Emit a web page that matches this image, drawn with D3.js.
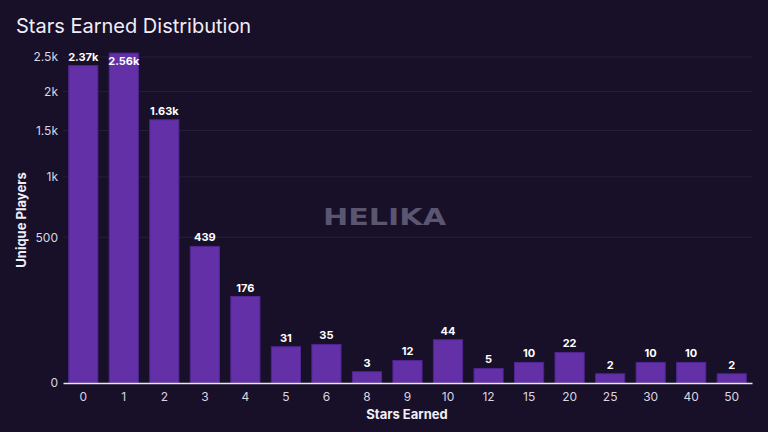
<!DOCTYPE html>
<html><head><meta charset="utf-8">
<script src="https://cdn.jsdelivr.net/npm/d3@7"></script>
<style>
html,body{margin:0;padding:0;background:#180f29;}
svg{display:block;font-family:Inter,"DejaVu Sans",sans-serif;}
</style></head>
<body><svg id="c" width="768" height="432"></svg>
<script>
const categories = ["0","1","2","3","4","5","6","8","9","10","12","15","20","25","30","40","50"];
const values = [2370,2560,1630,439,176,31,35,3,12,44,5,10,22,2,10,10,2];
const labels = ["2.37k","2.56k","1.63k","439","176","31","35","3","12","44","5","10","22","2","10","10","2"];
const yTicks = [0,500,1000,1500,2000,2500];
const yTickLabels = ["0","500","1k","1.5k","2k","2.5k"];

const svg = d3.select("#c");
svg.append("rect").attr("width",768).attr("height",432).attr("fill","#180f29");

const x = d3.scaleBand().domain(categories).range([63,752]).paddingInner(0.28).paddingOuter(0.14);
const y = d3.scaleSqrt().domain([0,2500]).range([383,57]);

// grid
svg.append("g").selectAll("line").data(yTicks.slice(1)).join("line")
  .attr("x1",63).attr("x2",752).attr("y1",d=>y(d)).attr("y2",d=>y(d))
  .attr("stroke","#271e3c").attr("stroke-width",1);

// watermark
svg.append("text").attr("x",323).attr("y",225)
  .attr("font-family","'DejaVu Sans',sans-serif").attr("font-weight",700).attr("font-size",23)
  .attr("textLength",123).attr("lengthAdjust","spacingAndGlyphs")
  .attr("fill","#5a5570").text("HELIKA");

// bars
svg.append("g").selectAll("rect").data(values).join("rect")
  .attr("x",(d,i)=>x(categories[i])).attr("width",x.bandwidth())
  .attr("y",d=>y(d)).attr("height",d=>383-y(d))
  .attr("fill","#6330a8").attr("stroke","#4f2590").attr("stroke-width",1);

// value labels
svg.append("g").selectAll("text").data(values).join("text")
  .attr("x",(d,i)=>x(categories[i])+x.bandwidth()/2)
  .attr("y",d=> y(d) < 62 ? y(d)+12 : y(d)-5)
  .attr("text-anchor","middle").attr("font-size",11).attr("font-weight",700)
  .attr("fill","#ffffff").text((d,i)=>labels[i]);

// x axis
const xa = svg.append("g").attr("transform","translate(0,383)")
  .call(d3.axisBottom(x).tickSize(0).tickPadding(9));
xa.select(".domain").attr("stroke","#e8e6ef").attr("stroke-width",1.5);
xa.selectAll("text").attr("fill","#d8d6e0").attr("font-size",12).attr("font-family","Inter,sans-serif");

// y axis
const ya = svg.append("g").attr("transform","translate(63,0)")
  .call(d3.axisLeft(y).tickValues(yTicks).tickFormat((d,i)=>yTickLabels[i]).tickSize(0).tickPadding(5));
ya.select(".domain").remove();
ya.selectAll("text").attr("fill","#d8d6e0").attr("font-size",12).attr("font-family","Inter,sans-serif");

// titles
svg.append("text").attr("x",16).attr("y",33).attr("font-size",20).attr("fill","#f0eef5").text("Stars Earned Distribution");
svg.append("text").attr("x",407).attr("y",419).attr("text-anchor","middle").attr("font-size",13)
  .attr("font-weight",700).attr("fill","#f0eef5").text("Stars Earned");
svg.append("text").attr("transform","translate(26,220) rotate(-90)").attr("text-anchor","middle")
  .attr("font-size",13).attr("font-weight",700).attr("fill","#f0eef5").text("Unique Players");
</script></body></html>
